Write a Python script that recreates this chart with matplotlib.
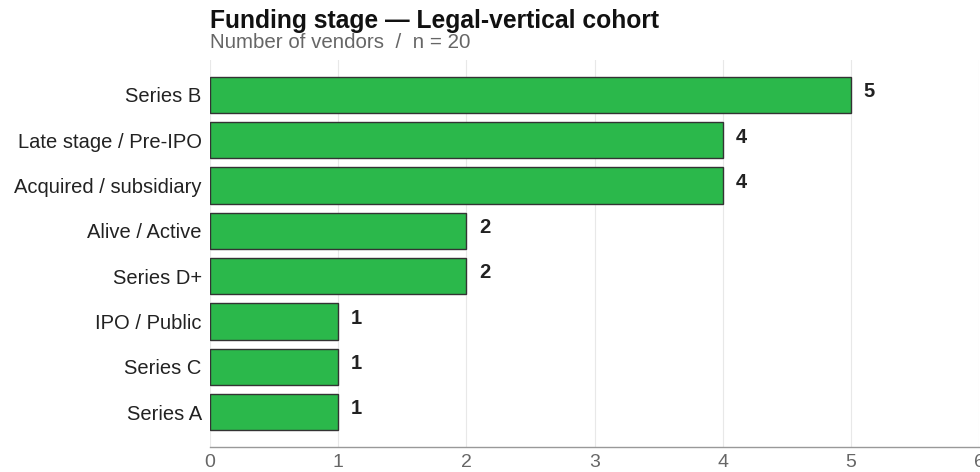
import matplotlib
matplotlib.use("Agg")
import matplotlib.pyplot as plt

plt.rcParams['font.family'] = ['Liberation Sans', 'DejaVu Sans']

categories = ["Series B", "Late stage / Pre-IPO", "Acquired / subsidiary", "Alive / Active",
              "Series D+", "IPO / Public", "Series C", "Series A"]
values = [5, 4, 4, 2, 2, 1, 1, 1]
xticks = [0, 1, 2, 3, 4, 5, 6]

fig = plt.figure(figsize=(9.8, 4.72), dpi=100)
ax = fig.add_axes([210/980, 1-447/472, (979-210)/980, (447-60)/472])

ypos = list(range(len(categories)))
ax.barh(ypos, values, height=0.8, color="#2bb84b", edgecolor="#333333", linewidth=1.0, zorder=3)
ax.set_ylim(len(categories) - 1 + 0.77, -0.77)
ax.set_xlim(0, 6)
ax.set_yticks(ypos)
ax.set_yticklabels(categories, fontsize=14.5, color="#222222")
ax.set_xticks(xticks)
ax.set_xticklabels([str(t) for t in xticks], fontsize=14, color="#666666")
ax.tick_params(axis='both', length=0)
ax.tick_params(axis='y', pad=6)
ax.tick_params(axis='x', pad=5)
ax.grid(axis='x', color="#e8e8e8", linewidth=0.8, zorder=0)
for s in ["top", "right", "left"]:
    ax.spines[s].set_visible(False)
ax.spines["bottom"].set_color("#999999")
ax.spines["bottom"].set_linewidth(1.0)

for y, v in zip(ypos, values):
    ax.text(v + 0.1, y - 0.07, str(v), va="center", ha="left", fontsize=14.5, fontweight="bold", color="#222222")

fig.text(210/980, 1-28/472, "Funding stage \u2014 Legal-vertical cohort", fontsize=17.7, fontweight="bold",
         color="#111111", ha="left", va="baseline")
fig.text(210/980, 1-48/472, "Number of vendors  /  n = 20", fontsize=14.8, color="#666666",
         ha="left", va="baseline")

fig.savefig("out.png", dpi=100)
